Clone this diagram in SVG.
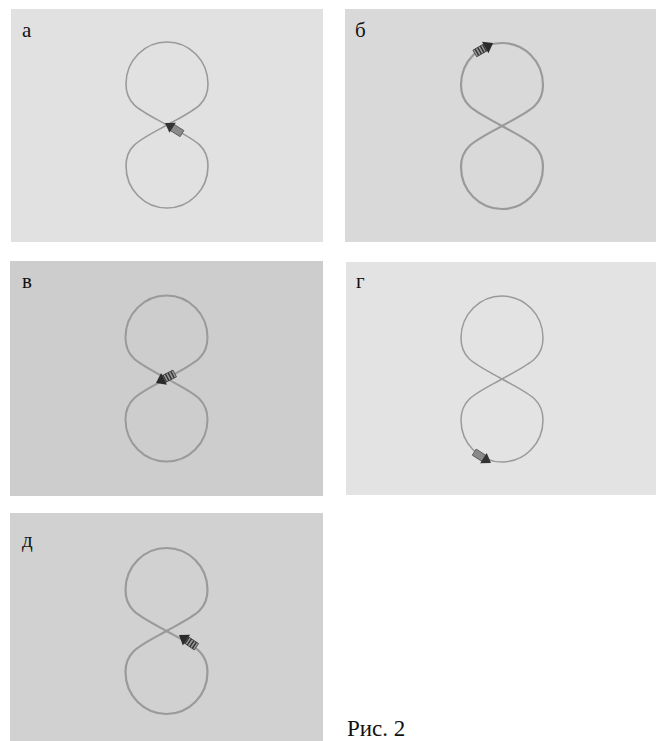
<svg xmlns="http://www.w3.org/2000/svg" width="657" height="741" viewBox="0 0 657 741">
<style>
.panel{stroke:none}
.lbl{font-size:21px;fill:#111}
.cap{font-size:23px;fill:#111}
.eight{fill:none;stroke:#9a9a9a}
</style>
<defs>
<path id="eightPath" d="M0,0 C27,-15 41,-20 41,-41 C41,-65 22,-83 0,-83 C-22,-83 -41,-65 -41,-41 C-41,-20 -27,-15 0,0 C27,15 41,20 41,41 C41,65 22,83 0,83 C-22,83 -41,65 -41,41 C-41,20 -27,15 0,0 Z"/>
<g id="arrowStriped">
<rect x="-21" y="-3.8" width="13" height="7.6" fill="#9a9a9a" stroke="#444" stroke-width="0.8"/>
<line x1="-18.5" y1="-3.8" x2="-18.5" y2="3.8" stroke="#333" stroke-width="1.4"/>
<line x1="-15.5" y1="-3.8" x2="-15.5" y2="3.8" stroke="#333" stroke-width="1.4"/>
<line x1="-12.5" y1="-3.8" x2="-12.5" y2="3.8" stroke="#333" stroke-width="1.4"/>
<line x1="-9.8" y1="-3.8" x2="-9.8" y2="3.8" stroke="#333" stroke-width="1.2"/>
<polygon points="0,0 -9,-6.5 -9,6.5" fill="#2a2a2a"/>
</g>
<g id="arrowPlain">
<rect x="-20" y="-3.6" width="12" height="7.2" fill="#8a8a8a" stroke="#555" stroke-width="0.8"/>
<polygon points="0,0 -9,-6 -9,6" fill="#333"/>
</g>
</defs>

<g id="panel-a">
<rect class="panel" x="11" y="9" width="312" height="233" fill="#e1e1e1"/>
<text class="lbl" x="22" y="37" font-family="'Liberation Serif', 'Times New Roman', 'DejaVu Serif', serif">а</text>
<use href="#eightPath" class="eight" x="167" y="125" stroke-width="1.6"/>
</g>

<g id="panel-b">
<rect class="panel" x="345" y="9" width="311" height="233" fill="#d9d9d9"/>
<text class="lbl" x="355" y="37" font-family="'Liberation Serif', 'Times New Roman', 'DejaVu Serif', serif">б</text>
<use href="#eightPath" class="eight" x="502" y="126" stroke-width="2.2"/>
</g>

<g id="panel-v">
<rect class="panel" x="10" y="261" width="313" height="235" fill="#cdcdcd"/>
<text class="lbl" x="22" y="288" font-family="'Liberation Serif', 'Times New Roman', 'DejaVu Serif', serif">в</text>
<use href="#eightPath" class="eight" x="166.5" y="378.5" stroke-width="2"/>
</g>

<g id="panel-g">
<rect class="panel" x="346" y="262" width="310" height="233" fill="#e3e3e3"/>
<text class="lbl" x="356" y="288" font-family="'Liberation Serif', 'Times New Roman', 'DejaVu Serif', serif">г</text>
<use href="#eightPath" class="eight" x="502" y="379" stroke-width="1.5"/>
</g>

<g id="panel-d">
<rect class="panel" x="10" y="513" width="313" height="228" fill="#d1d1d1"/>
<text class="lbl" x="22" y="547" font-family="'Liberation Serif', 'Times New Roman', 'DejaVu Serif', serif">д</text>
<use href="#eightPath" class="eight" x="166.5" y="631" stroke-width="2.2"/>
</g>

<g id="connectors">
<use href="#arrowPlain" transform="translate(165,123) rotate(212)"/>
<use href="#arrowStriped" transform="translate(493,43) rotate(-30)"/>
<use href="#arrowStriped" transform="translate(156,383) rotate(153)"/>
<use href="#arrowPlain" transform="translate(491,463) rotate(33)"/>
<use href="#arrowStriped" transform="translate(179,635) rotate(214)"/>
</g>

<text class="cap" x="347" y="736" font-family="'Liberation Serif', 'Times New Roman', 'DejaVu Serif', serif">Рис. 2</text>
</svg>
